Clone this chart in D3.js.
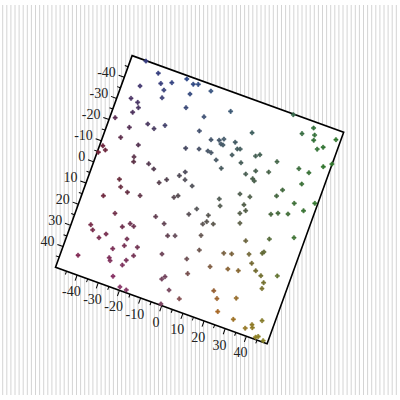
<!DOCTYPE html>
<html>
<head>
<meta charset="utf-8">
<script src="https://cdn.jsdelivr.net/npm/d3@7"></script>
<style>
  body { margin: 0; background: #fff; }
</style>
</head>
<body>
<div id="chart"></div>
<script>
// point values (data units)
var xValues = [
  -43.4, -36.4, -33.8, -29.3, -31.5, -31.1, -23.6, -20.1, -18.0, -20.0, -19.6, -42.1, -44.0, -40.6, -39.5, -41.2,
  -47.7, -40.3, -33.1, -29.8, -25.7, -42.4, -48.6, -46.9, -49.5, -33.9, -33.9, -33.3, -26.7, -23.8, -36.6, -34.9,
  -31.3, -25.5, -40.8, -19.5, -16.8, -12.1, -10.2, -9.1, -5.2, -13.6, -7.9, -10.5, -11.1, -9.6,
  -11.7, -0.4, -10.7, -4.3, -0.8, 1.0, 0.5, 1.5, 6.2, 8.1, 9.3, 11.8, -3.9, -2.3, 0.9, 4.3, 6.8, 11.7, 16.8, 18.4,
  15.4, 19.1, 19.0, 20.0, 24.7, 26.6, 16.0, 20.6, 8.1, 31.6, 33.2, 26.3, 36.8, 32.8, 38.3, 38.7, 47.9, 41.5, 43.7,
  36.8, 41.6, 46.7, 49.9, 40.3,
  -33.3, -41.7, -40.1, -36.3, -33.9, -28.2, -25.4, -23.5, -24.4, -24.5, -18.8, -28.9, -29.0, -28.2, -21.5, -19.1,
  -22.4, -42.4, -24.6, -20.1, -17.0, -15.8, -11.2, -7.9, -4.8, -7.5, -3.8, -2.8, 0.9, -0.4, 6.5, 3.6, 6.2, -2.3,
  0.2, 7.5,
  9.5, 19.3, 18.9, 20.9, 6.0, 5.0, 6.3, 9.4, 6.0, 20.4, 32.0, 34.8, 39.1, 40.1, 48.7, 45.1, 25.5, 35.1, 45.2, 18.2,
  21.6, 28.9, 34.3, 34.8, 31.4, 14.5, 22.3, 26.9, 34.2, 37.1, 44.0, 39.3, 39.5, 19.7, 22.2, 30.2, 24.5, 32.2, 40.8,
  41.4, 38.5, 44.4, 44.2, 45.2, 47.9
];
var yValues = [
  -49.8, -46.6, -42.7, -44.7, -40.4, -36.9, -48.5, -47.3, -48.0, -42.7, -36.4, -38.5, -32.0, -31.3, -29.2, -26.4,
  -21.5, -19.6, -23.8, -22.8, -25.8, -14.1, -7.9, -6.5, -4.5, -13.6, -8.0, -5.9, -7.3, -5.9, 3.6, 6.6,
  7.8, 7.3, 12.9, -1.0, -3.4, -7.0, -9.4, -6.1, -4.6, -19.4, -21.1, -28.7, 2.9, 1.6,
  -47.1, -41.6, -35.3, -26.8, -27.8, -29.0, -26.5, -26.4, -29.4, -26.9, -27.3, -35.9, -21.6, -21.4, -19.1, -16.4,
  -23.6, -21.7, -26.7, -27.9, -17.7, -20.5, -16.8, -16.1, -22.0, -27.6, -8.5, -8.8, -3.3, -13.2, -16.6, -49.7,
  -47.2, -43.1, -44.4, -42.1, -45.7, -38.9, -40.6, -28.0, -27.8, -32.5, -34.9, -22.0,
  18.5, 26.9, 28.8, 31.1, 28.5, 23.0, 20.5, 21.1, 27.4, 30.6, 29.3, 33.6, 37.9, 39.0, 36.4, 33.4,
  39.0, 41.6, 45.1, 48.5, 48.8, 13.7, 15.4, 19.9, 18.8, 28.4, 38.9, 37.4, 42.4, 49.4, 44.5, 26.7, 32.7, 7.7,
  4.3, 21.1,
  -0.5, -4.6, -0.4, -2.4, 5.2, 9.7, 8.1, 8.1, 14.7, 3.7, -4.7, -6.2, -7.4, -12.8, -15.9, -11.1, 10.2, 5.9, 1.6, 18.7,
  17.8, 15.3, 12.9, 12.1, 18.7, 26.4, 24.7, 23.8, 21.2, 22.5, 20.1, 25.0, 27.7, 35.9, 38.7, 35.6, 44.0, 44.9, 44.3,
  45.5, 46.8, 41.1, 49.0, 48.3, 49.3
];
var majorTicks = [-40, -30, -20, -10, 0, 10, 20, 30, 40];
var minorTicks = [-45, -35, -25, -15, -5, 5, 15, 25, 35, 45];

// colour ramp over the plane
var colorX = [-50, -25, 0, 25, 50];
var colorY = [-50, 0, 30, 50];
var colorGrid = [
  ["#3c3a7e", "#2f4a8c", "#3a5a7a", "#3a6a50", "#2e7a2a"],
  ["#7a2434", "#5a3a48", "#545a5a", "#556045", "#3a7a34"],
  ["#7a2a48", "#7a3558", "#6a4a5a", "#9a6a30", "#6a7a30"],
  ["#8a2858", "#8a3068", "#7a4060", "#b06a22", "#8a8a2a"]
];

var svgWidth = 400;
var svgHeight = 400;
var angle = 19.9;
var side = 225;
var center = { x: 199.6, y: 199.7 };

var points = xValues.map((x, i) => ({ x: x, y: yValues[i] }));

function pointColor(d) {
  var i = Math.min(Math.max(d3.bisectRight(colorX, d.x) - 1, 0), colorX.length - 2);
  var j = Math.min(Math.max(d3.bisectRight(colorY, d.y) - 1, 0), colorY.length - 2);
  var tx = (d.x - colorX[i]) / (colorX[i + 1] - colorX[i]);
  var ty = (d.y - colorY[j]) / (colorY[j + 1] - colorY[j]);
  var top = d3.interpolateRgb(colorGrid[j][i], colorGrid[j][i + 1])(tx);
  var bot = d3.interpolateRgb(colorGrid[j + 1][i], colorGrid[j + 1][i + 1])(tx);
  return d3.interpolateRgb(top, bot)(ty);
}

var svg = d3.select("#chart")
  .append("svg")
  .attr("width", svgWidth)
  .attr("height", svgHeight);

/// striped background
svg.append("g")
  .selectAll("line")
  .data(d3.range(2.7, 397, 4.1))
  .enter()
  .append("line")
  .attr("x1", d => d)
  .attr("x2", d => d)
  .attr("y1", 5)
  .attr("y2", 395)
  .attr("stroke", "#d4d4d4")
  .attr("stroke-width", 1);

var plot = svg.append("g")
  .attr("transform", `translate(${center.x}, ${center.y}) rotate(${angle})`);

var xScale = d3.scaleLinear().domain([-50, 50]).range([-side / 2, side / 2]);
var yScale = d3.scaleLinear().domain([-50, 50]).range([-side / 2, side / 2]);

plot.append("rect")
  .attr("x", -side / 2)
  .attr("y", -side / 2)
  .attr("width", side)
  .attr("height", side)
  .attr("fill", "#fff")
  .attr("stroke", "#000")
  .attr("stroke-width", 1.6);

/// axes
function styleAxis(g) {
  g.select(".domain").remove();
  g.selectAll(".tick line").attr("stroke", "#000").attr("stroke-width", 1);
  g.selectAll("text")
    .attr("fill", "#222")
    .style("font-family", "'Liberation Serif', 'DejaVu Serif', serif")
    .style("font-size", "14px");
}

plot.append("g")
  .attr("transform", `translate(0, ${side / 2})`)
  .call(d3.axisBottom(xScale).tickValues(minorTicks).tickSize(3.5).tickSizeOuter(0).tickFormat(""))
  .call(styleAxis);

plot.append("g")
  .attr("transform", `translate(0, ${side / 2})`)
  .call(d3.axisBottom(xScale).tickValues(majorTicks).tickSize(6).tickSizeOuter(0).tickFormat(d => String(d)))
  .call(styleAxis)
  .call(g => g.selectAll("text")
    .attr("y", 0)
    .attr("dy", "0.35em")
    .attr("text-anchor", "middle")
    .attr("transform", `translate(0, 17) rotate(${-angle})`));

plot.append("g")
  .attr("transform", `translate(${-side / 2}, 0)`)
  .call(d3.axisLeft(yScale).tickValues(minorTicks).tickSize(3.5).tickSizeOuter(0).tickFormat(""))
  .call(styleAxis);

plot.append("g")
  .attr("transform", `translate(${-side / 2}, 0)`)
  .call(d3.axisLeft(yScale).tickValues(majorTicks).tickSize(6).tickSizeOuter(0).tickFormat(d => String(d)))
  .call(styleAxis)
  .call(g => g.selectAll("text")
    .attr("x", 0)
    .attr("y", -2.5)
    .attr("dy", "0.35em")
    .attr("text-anchor", "end")
    .attr("transform", `translate(-9, 0) rotate(${-angle})`));

/// points
plot.append("g")
  .selectAll("path")
  .data(points)
  .enter()
  .append("path")
  .attr("transform", d => `translate(${xScale(d.x)}, ${yScale(d.y)}) rotate(${-angle})`)
  .attr("d", d3.symbol(d3.symbolCross, 9))
  .attr("fill", pointColor)
  .attr("stroke", pointColor)
  .attr("stroke-width", 0.7);
</script>
</body>
</html>
